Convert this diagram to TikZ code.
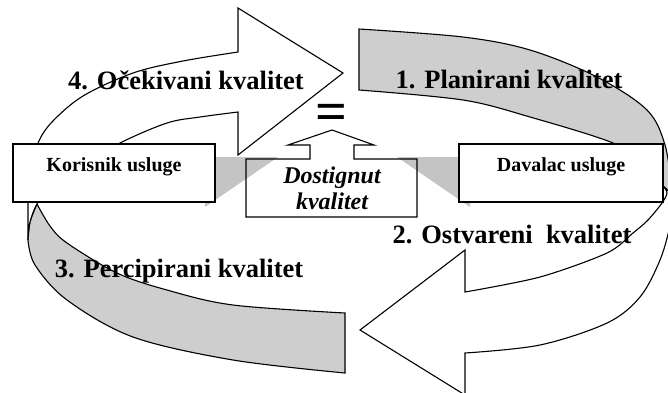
\documentclass[tikz,border=0pt]{standalone}
\usepackage{fontspec}
\setmainfont{Liberation Serif}
\definecolor{bandgray}{RGB}{206,206,206}
\definecolor{trigray}{RGB}{196,196,196}
\begin{document}
\begin{tikzpicture}[x=1pt,y=-1pt, line width=1.1pt, line join=miter,
  band/.style={draw=black, fill=bandgray},
  warrow/.style={draw=black, fill=white},
  box/.style={draw=black, fill=white, rectangle, inner sep=0pt},
  big/.style={font=\fontsize{26.5}{30}\selectfont\bfseries, anchor=base, inner sep=0pt},
  boxlabel/.style={font=\fontsize{20}{24}\selectfont\bfseries, anchor=base, inner sep=0pt},
  dostlabel/.style={font=\fontsize{24}{28}\selectfont\bfseries\itshape, anchor=base, inner sep=0pt}]
\useasboundingbox (0,0) rectangle (668,392);
\clip (0,0) rectangle (668,392);

% 1. gray band (Planirani)
\path[band] plot[smooth, tension=0.55] coordinates {(359,29) (463,37) (530,50) (597,77) (647,110) (665,145) (672,190)}
  -- (669,192) -- (663,186)
  -- plot[smooth, tension=0.55] coordinates {(663,186) (640,163) (613,143) (530,117) (463,100) (359,90)} -- cycle;

% 2. white arrow (Ostvareni)
\path[warrow] (663,186) -- plot[smooth, tension=0.5] coordinates {(663,186) (667,193) (662,203) (648,220) (633,233) (607,253) (540,277) (465,292)}
  -- (465,250) -- (360,330) -- (465,395) -- (465,353)
  -- plot[smooth, tension=0.55] coordinates {(465,353) (540,345) (607,323) (640,297) (660,260) (670,225) (673,195)} -- cycle;

% 3. gray band (Percipirani)
\path[band] (37,204) -- plot[smooth, tension=0.55] coordinates {(37,204) (50,226) (67,243) (117,273) (167,290) (233,305) (345,313)}
  -- (345,373)
  -- plot[smooth, tension=0.55] coordinates {(345,373) (233,360) (133,337) (67,300) (35,265) (28,240)}
  -- plot[smooth] coordinates {(28,240) (30,222) (37,204)} -- cycle;

% 4. white arrow (Ocekivani)
\path[warrow] (28,240) -- (28,200)
  -- plot[smooth, tension=0.55] coordinates {(28,200) (31,170) (38,143) (52,122) (83,96) (133,73) (183,61) (238,52)}
  -- (238,8) -- (343,73) -- (238,155) -- (238,112)
  -- plot[smooth, tension=0.55] coordinates {(238,112) (200,117) (167,123) (120,143) (80,167) (50,188) (37,204) (30,222) (28,240)} -- cycle;

% Dostignut shape fill
\path[fill=white] (246,159) -- (310,159) -- (310,145) -- (288,145) -- (332,130) -- (374,145) -- (354,145) -- (354,159) -- (417,159) -- (417,217) -- (246,217) -- cycle;

% gray wedges
\fill[trigray] (205,157) -- (278,157) -- (205,207) -- cycle;
\fill[trigray] (397,157) -- (470,157) -- (470,207) -- cycle;

% boxes
\node[box, minimum width=202pt, minimum height=58pt] (kor) at (114,173) {};
\node[box, minimum width=204pt, minimum height=58pt] (dav) at (561,173) {};

\draw (246,159) -- (310,159) -- (310,145) -- (288,145) -- (332,130) -- (374,145) -- (354,145) -- (354,159) -- (417,159) -- (417,217) -- (246,217) -- cycle;

% texts
\node[boxlabel] (korT) at (114,171) {Korisnik usluge};
\node[boxlabel] (davT) at (561,171) {Davalac usluge};
\node[dostlabel] (dost1) at (332,183) {Dostignut};
\node[dostlabel] (dost2) at (332,209) {kvalitet};
\node[font=\fontsize{56}{60}\selectfont\bfseries, anchor=base, inner sep=0pt] (eq) at (331,130) {=};

\node[big] (t4) at (186,89) {4. Očekivani kvalitet};
\node[big] (t1) at (509,88) {1. Planirani kvalitet};
\node[big] (t2) at (512,243) {2. Ostvareni\ \ kvalitet};
\node[big] (t3) at (179,277) {3. Percipirani kvalitet};
\end{tikzpicture}
\end{document}
